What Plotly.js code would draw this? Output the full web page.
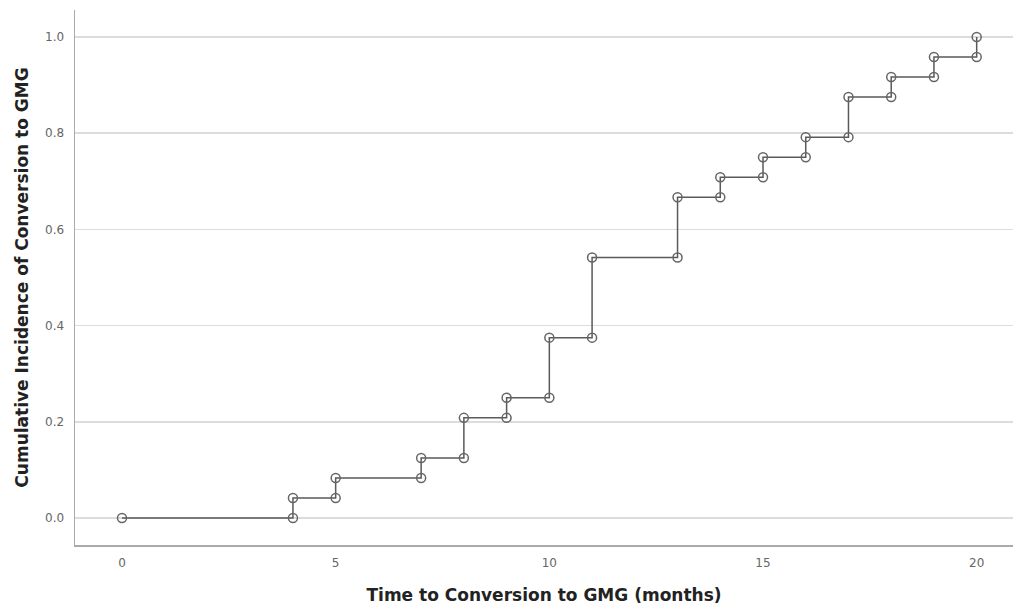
<!DOCTYPE html>
<html>
<head>
<meta charset="utf-8">
<script src="https://cdn.plot.ly/plotly-3.0.1.min.js"></script>
<style>html,body{margin:0;padding:0;background:#fff;}#chart{width:1016px;height:608px;}</style>
</head>
<body>
<div id="chart"></div>
<script>
// Event times (months) and cumulative incidence after each event
const eventTimes = [0, 4, 5, 7, 8, 9, 10, 11, 13, 14, 15, 16, 17, 18, 19, 20];
const cumIncidence = [0, 0.0417, 0.0833, 0.125, 0.2083, 0.25, 0.375, 0.5417, 0.6667, 0.7083, 0.75, 0.7917, 0.875, 0.9167, 0.9583, 1.0];
const xTickVals = [0, 5, 10, 15, 20];
const yTickVals = [0, 0.2, 0.4, 0.6, 0.8, 1.0];
const yTickText = ['0.0', '0.2', '0.4', '0.6', '0.8', '1.0'];

const sx = [], sy = [];
for (let i = 0; i < eventTimes.length; i++) {
  if (i > 0) { sx.push(eventTimes[i]); sy.push(cumIncidence[i - 1]); }
  sx.push(eventTimes[i]); sy.push(cumIncidence[i]);
}

const trace = {
  x: sx, y: sy, type: 'scatter', mode: 'lines+markers',
  line: {color: '#5a5a5a', width: 1.5, shape: 'linear'},
  marker: {symbol: 'circle-open', size: 9, color: '#666', line: {width: 1.5, color: '#666'}},
  hoverinfo: 'x+y', showlegend: false
};

const layout = {
  width: 1016, height: 608,
  margin: {l: 75, r: 3, t: 10, b: 63},
  paper_bgcolor: '#fff', plot_bgcolor: '#fff',
  font: {family: 'DejaVu Sans, sans-serif', color: '#555'},
  xaxis: {
    range: [-1.1, 20.85], tickvals: xTickVals, ticktext: xTickVals.map(String),
    showgrid: false, zeroline: false, showline: true, linecolor: '#aaa', linewidth: 1.5,
    ticks: '', tickfont: {size: 12, color: '#666'}, ticklabelstandoff: 6,
    title: {text: 'Time to Conversion to GMG (months)', font: {size: 17, color: '#222', family: 'DejaVu Sans, sans-serif', weight: 'bold'}, standoff: 20}
  },
  yaxis: {
    range: [-0.056, 1.056], tickvals: yTickVals, ticktext: yTickText,
    showgrid: true, gridcolor: '#dcdcdc', gridwidth: 1.5, zeroline: false,
    showline: true, linecolor: '#aaa', linewidth: 1.5,
    ticks: '', tickfont: {size: 12, color: '#666'}, ticklabelstandoff: 7,
    title: {text: 'Cumulative Incidence of Conversion to GMG', font: {size: 17, color: '#222', family: 'DejaVu Sans, sans-serif', weight: 'bold'}, standoff: 12}
  }
};

Plotly.newPlot('chart', [trace], layout, {displayModeBar: false, staticPlot: true});
</script>
</body>
</html>
